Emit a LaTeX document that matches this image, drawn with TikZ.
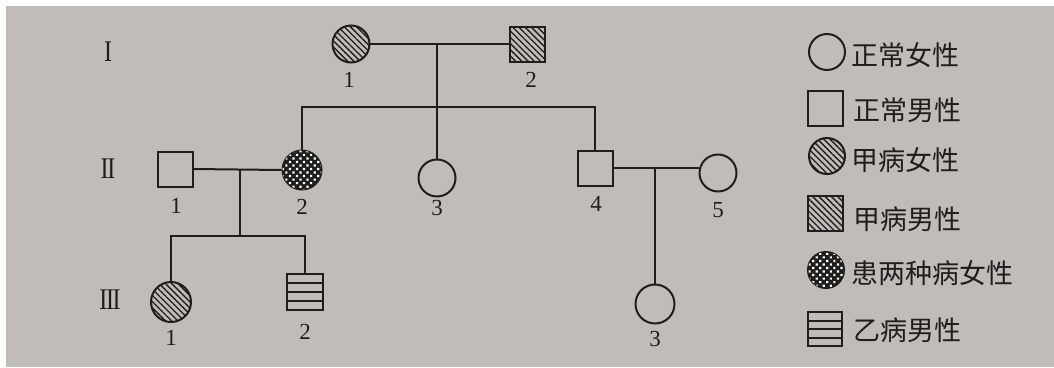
\documentclass[tikz,border=0pt]{standalone}
\usepackage{fontspec}
\usepackage{graphicx}
\setmainfont{Liberation Serif}
\newfontfamily\cjk{Noto Sans CJK SC}
\usetikzlibrary{patterns.meta}

\definecolor{paper}{RGB}{192,189,185}
\definecolor{ink}{RGB}{32,30,29}

\tikzset{
  pen/.style={draw=ink, line width=2pt},
  female/.style={pen, circle, inner sep=0pt, minimum size=37pt},
  male/.style={pen, rectangle, inner sep=0pt, minimum size=35pt},
  diseaseA/.style={pattern={Lines[angle=-45,distance=4.4pt,line width=1.35pt]}, pattern color=ink},
  bothdis/.style={fill=ink, postaction={pattern={Dots[angle=45,distance=5pt,radius=1.55pt]}, pattern color=white}},
  diseaseB/.style={path picture={
      \foreach \k in {1,2,3}{
        \draw[ink, line width=2pt]
          ([yshift=-\k*0.25*\pgfkeysvalueof{/pgf/minimum height}]path picture bounding box.north west) --
          ([yshift=-\k*0.25*\pgfkeysvalueof{/pgf/minimum height}]path picture bounding box.north east);}}},
  num/.style={font=\fontsize{23}{23}\selectfont, text=ink, inner sep=0pt},
  gen/.style={font=\fontsize{30}{30}\selectfont, text=ink, inner sep=0pt},
  key/.style={font=\cjk\fontsize{27}{27}\selectfont, text=ink, anchor=west, inner sep=0pt}
}

\begin{document}
\begin{tikzpicture}[x=1pt, y=-1pt]
  % paper
  \fill[white] (0,0) rectangle (1054,367);
  \fill[paper] (6,6) rectangle (1054,367);
  \useasboundingbox (0,0) rectangle (1054,367);

  % generation numerals
  \node[gen] (gI)   at (108,52)  {\scalebox{0.8}[1]{I}};
  \node[gen] (gII)  at (108,169) {\scalebox{0.8}[1]{I\kern-0.06em I}};
  \node[gen] (gIII) at (110,300) {\scalebox{0.8}[1]{I\kern-0.06em I\kern-0.06em I}};

  % generation I
  \node[female, diseaseA] (I1) at (351,44) {};
  \node[male, diseaseA]   (I2) at (527,44) {};
  \node[num] (lI1) at (349,80) {1};
  \node[num] (lI2) at (531,80) {2};

  % generation II
  \node[male]              (II1) at (175,169) {};
  \node[female, bothdis, minimum width=37pt, minimum height=39pt] (II2) at (302,170) {};
  \node[female]            (II3) at (437,178) {};
  \node[male]              (II4) at (595,168) {};
  \node[female]            (II5) at (718,173) {};
  \node[num] (lII1) at (176,206) {1};
  \node[num] (lII2) at (302,207) {2};
  \node[num] (lII3) at (437,208) {3};
  \node[num] (lII4) at (596,204) {4};
  \node[num] (lII5) at (718,210) {5};

  % generation III
  \node[female, diseaseA, minimum width=37pt, minimum height=40pt] (III1) at (171,302) {};
  \node[male, diseaseB, minimum size=36pt] (III2) at (305,292) {};
  \node[female, minimum width=37pt, minimum height=39pt] (III3) at (655,304) {};
  \node[num] (lIII1) at (171,338) {1};
  \node[num] (lIII2) at (305,332) {2};
  \node[num] (lIII3) at (655,339) {3};

  % marriages and descent lines
  \coordinate (m1) at (437,44);
  \coordinate (s1) at (437,107);
  \draw[pen] (I1.east) -- (I2.west);
  \draw[pen] (m1) -- (II3.north);
  \draw[pen] (II2.north) |- (s1) -| (II4.north);

  \coordinate (m2) at (240,169);
  \coordinate (s2) at (240,236);
  \draw[pen] (II1.east) -- (II2.west);
  \draw[pen] (m2) -- (s2);
  \draw[pen] (III1.north) |- (s2) -| (III2.north);

  \coordinate (m3) at (655,168);
  \draw[pen] (II4.east) -- (II4.east -| II5.west);
  \draw[pen] (m3) -- (III3.north);

  % legend
  \node[female, minimum size=36pt]           (k1) at (827,52)  {};
  \node[male]                                (k2) at (825,108) {};
  \node[female, diseaseA, minimum size=36pt] (k3) at (827,156) {};
  \node[male, diseaseA]                      (k4) at (825,213) {};
  \node[female, bothdis, minimum size=36pt]  (k5) at (826,270) {};
  \node[male, diseaseB, minimum size=34pt]   (k6) at (825,329) {};
  \node[key] (t1) at (851,55)  {正常女性};
  \node[key] (t2) at (853,110) {正常男性};
  \node[key] (t3) at (851,160) {甲病女性};
  \node[key] (t4) at (853,219) {甲病男性};
  \node[key] (t5) at (851,273) {患两种病女性};
  \node[key] (t6) at (853,330) {乙病男性};
\end{tikzpicture}
\end{document}
